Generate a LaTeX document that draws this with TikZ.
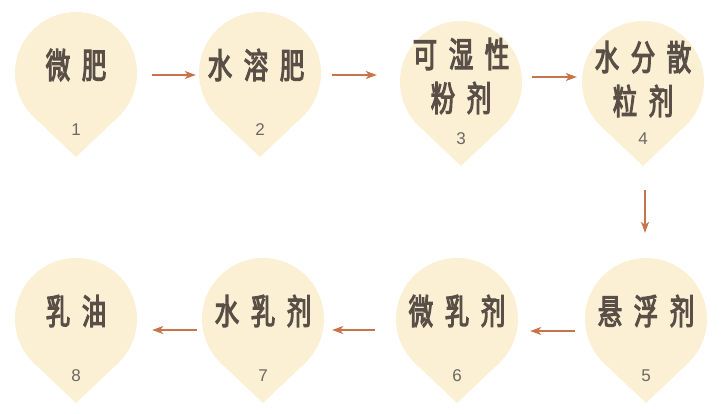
\documentclass[tikz,border=0pt]{standalone}
\usepackage{fontspec}
\setmainfont{Liberation Sans}
\newfontfamily\cjk[FakeStretch=0.7,LetterSpace=33,FakeBold=3]{Noto Sans CJK SC}
\usetikzlibrary{arrows.meta}
\definecolor{cream}{HTML}{FBF0D4}
\definecolor{ink}{HTML}{5A4F47}
\definecolor{numgray}{HTML}{6C6864}
\definecolor{rust}{HTML}{C8744A}

\begin{document}
\begin{tikzpicture}[x=1pt,y=-1pt,
  drop/.style={circle,fill=cream,minimum size=122pt,inner sep=0pt},
  word/.style={text=ink,font=\cjk\fontsize{35}{44}\selectfont,align=center},
  num/.style={text=numgray,font=\fontsize{17}{17}\selectfont},
  flow/.style={rust,line width=1.3pt,-{Stealth[length=11pt,width=8pt,inset=3pt]}}]
  \useasboundingbox (0,0) rectangle (725,413);
  % drops: number/x/y
  \foreach \n/\x/\y in {1/76/73,2/260/73,3/461/82,4/643/82,5/646/319,6/457/319,7/263/319,8/76/319} {
    \fill[cream] (\x,\y) +(41.9,44.3) -- +(0,84) -- +(-41.9,44.3) -- cycle;
    \node[drop] (c\n) at (\x,\y) {};
    \node[num] (n\n) at (\x,\y+57) {\n};
  }
  \node[word] (w1) at (76,65) {微肥};
  \node[word] (w2) at (256,65) {水溶肥};
  \node[word] (w3) at (461,76) {可湿性\\粉剂};
  \node[word] (w4) at (643,79) {水分散\\粒剂};
  \node[word] (w5) at (646,311) {悬浮剂};
  \node[word] (w6) at (457,311) {微乳剂};
  \node[word] (w7) at (263,311) {水乳剂};
  \node[word] (w8) at (76,311) {乳油};
  % arrows
  \draw[flow,shorten <=15pt,shorten >=3pt] ([yshift=-2pt]c1.east) -- ([yshift=-2pt]c2.west);
  \draw[flow,shorten <=11pt,shorten >=23pt] ([yshift=-2pt]c2.east) -- ([yshift=-2pt]c2.east -| c3.west);
  \draw[flow,shorten <=10pt,shorten >=5pt] ([yshift=5pt]c3.east) -- ([yshift=5pt]c4.west);
  \draw[flow,shorten <=47pt,shorten >=25pt] ([xshift=2pt]c4.south) -- ([xshift=2pt]c4.south |- c5.north);
  \draw[flow,shorten <=10pt,shorten >=12pt] ([yshift=-12pt]c5.west) -- ([yshift=-12pt]c6.east);
  \draw[flow,shorten <=21pt,shorten >=8pt] ([yshift=-11pt]c6.west) -- ([yshift=-11pt]c7.east);
  \draw[flow,shorten <=5pt,shorten >=15pt] ([yshift=-11pt]c7.west) -- ([yshift=-11pt]c8.east);
\end{tikzpicture}
\end{document}
